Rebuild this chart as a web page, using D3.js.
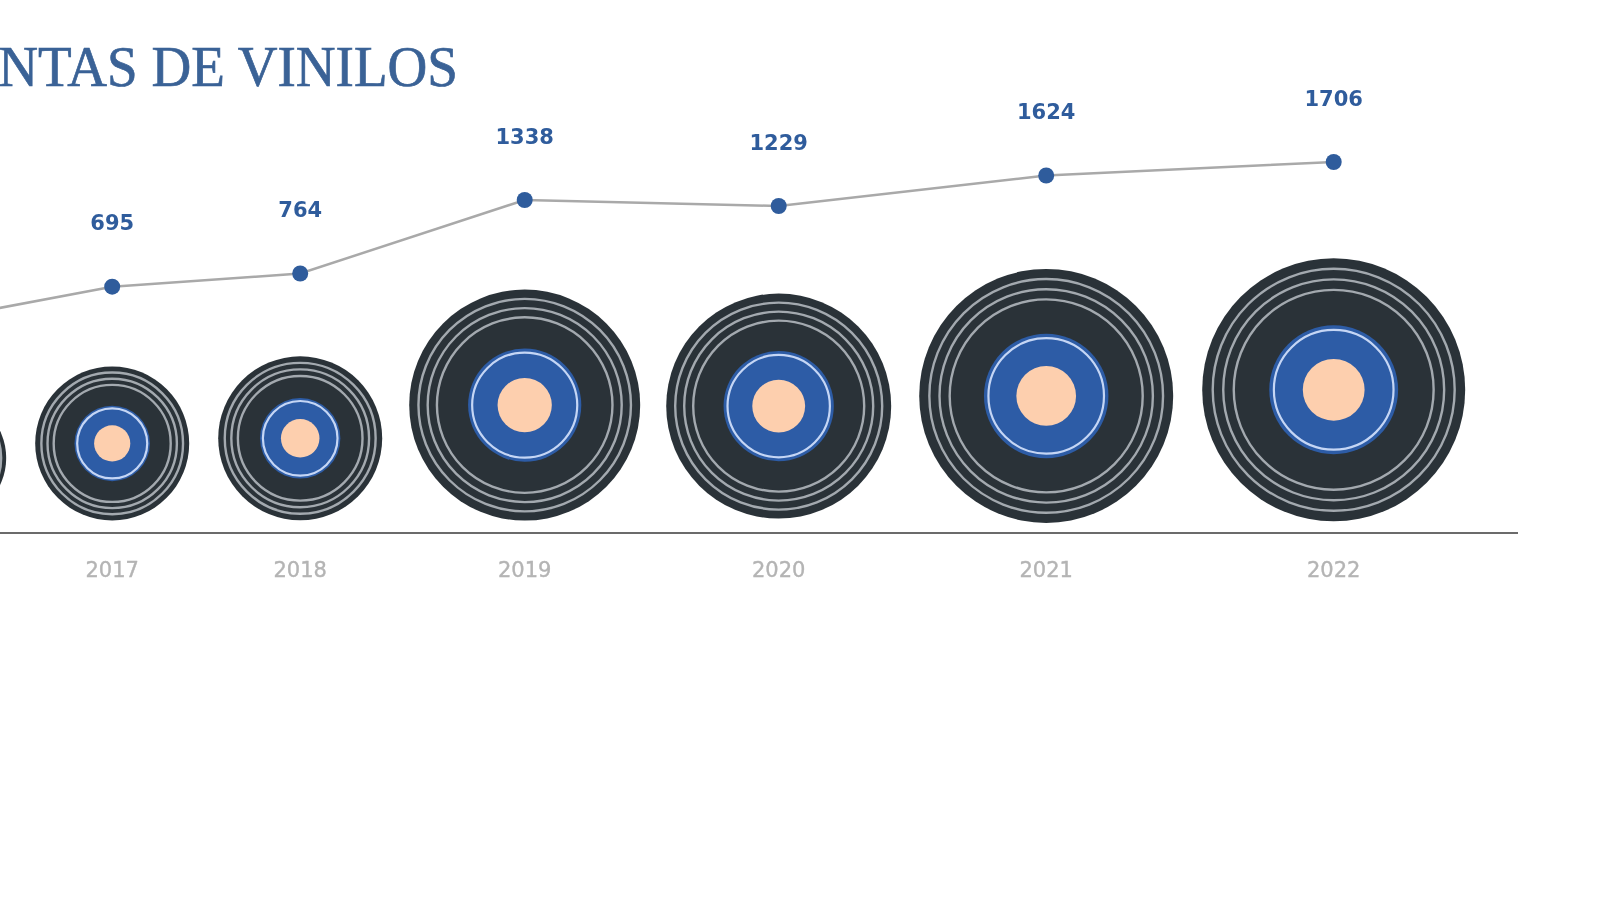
<!DOCTYPE html>
<html>
<head>
<meta charset="utf-8">
<title>Ventas de vinilos</title>
<script src="https://cdn.jsdelivr.net/npm/d3@7"></script>
<style>
  html, body { margin: 0; padding: 0; background: #fff; overflow: hidden; }
  svg { display: block; filter: blur(0.5px); }
</style>
</head>
<body>
<svg id="chart"></svg>
<script>
// 2016 sits off the left edge of the picture, its value is an estimate
const years = ["2016", "2017", "2018", "2019", "2020", "2021", "2022"];
const sales = [600, 695, 764, 1338, 1229, 1624, 1706];
const titleText = "VENTAS DE VINILOS";

const width = 1600;
const height = 900;
const baseline = 533;
const discGaps = [29, 29, 27, 26, 28, 29];

const sorted = d3.sort(sales);

// the original is hand placed, so these scales are piecewise
const r = d3.scaleLinear()
  .domain(sorted)
  .range([63, 77, 82, 112.5, 115.5, 127, 131.5]);

const y = d3.scaleLinear()
  .domain(sorted)
  .range([318.6, 286.7, 273.5, 206, 200, 175.5, 162]);

const discY = d3.scaleLinear()
  .domain(sorted)
  .range([458, 443.4, 438.3, 406.1, 405.1, 395.9, 389.8]);

// discs stand side by side, each one starts where the last one ended
let cursor = 112.2 - r(sales[1]) - discGaps[0] - r(sales[0]) * 2;
const data = years.map((year, i) => {
  const radius = r(sales[i]);
  const d = { year, value: sales[i], radius, x: cursor + radius };
  cursor += radius * 2 + (discGaps[i] || 0);
  return d;
});

// only these get labels, the 2016 ones would be off the page anyway
const labelled = data.filter(d => d.x > 0);

const svg = d3.select("#chart").attr("width", width).attr("height", height);

// Title
svg.append("text")
  .attr("transform", "translate(458, 86) scale(0.95, 1)")
  .attr("text-anchor", "end")
  .attr("fill", "#3a6296")
  .attr("stroke", "#3a6296")
  .attr("stroke-width", 0.7)
  .style("font-family", "'Liberation Serif'")
  .style("font-size", "58px")
  .text(titleText);

// Axis line
svg.append("line")
  .attr("x1", 0)
  .attr("x2", 1518)
  .attr("y1", baseline)
  .attr("y2", baseline)
  .attr("stroke", "#6b6b6b")
  .attr("stroke-width", 2);

// Discs
const discs = svg.selectAll("g.disc")
  .data(data)
  .enter()
  .append("g")
  .attr("class", "disc")
  .attr("transform", d => `translate(${d.x}, ${discY(d.value)})`);

discs.append("circle").attr("r", d => d.radius).attr("fill", "#2a3238");

[0.92, 0.84, 0.76].forEach(k => {
  discs.append("circle")
    .attr("r", d => d.radius * k)
    .attr("fill", "none")
    .attr("stroke", "#a3a9af")
    .attr("stroke-width", 2.4);
});

discs.append("circle").attr("r", d => d.radius * 0.49).attr("fill", "#2d5ca6");
discs.append("circle")
  .attr("r", d => d.radius * 0.455)
  .attr("fill", "none")
  .attr("stroke", "#c5d6f5")
  .attr("stroke-width", 2.2);
discs.append("circle").attr("r", d => d.radius * 0.235).attr("fill", "#fdcfae");

// Line and points
const line = d3.line().x(d => d.x).y(d => y(d.value));

svg.append("path")
  .datum(data)
  .attr("d", line)
  .attr("fill", "none")
  .attr("stroke", "#a9a9a9")
  .attr("stroke-width", 2.5);

svg.selectAll("circle.point")
  .data(data)
  .enter()
  .append("circle")
  .attr("class", "point")
  .attr("cx", d => d.x)
  .attr("cy", d => y(d.value))
  .attr("r", 8)
  .attr("fill", "#2f5c9c");

// Labels
svg.selectAll("text.value")
  .data(labelled)
  .enter()
  .append("text")
  .attr("class", "value")
  .attr("x", d => d.x)
  .attr("y", d => y(d.value) - 56.5)
  .attr("text-anchor", "middle")
  .attr("fill", "#2f5c9c")
  .style("font-family", "'DejaVu Sans'")
  .style("font-weight", "bold")
  .style("font-size", "21px")
  .text(d => d.value);

svg.selectAll("text.year")
  .data(labelled)
  .enter()
  .append("text")
  .attr("class", "year")
  .attr("x", d => d.x)
  .attr("y", 577)
  .attr("text-anchor", "middle")
  .attr("fill", "#b4b4b4")
  .attr("stroke", "#b4b4b4")
  .attr("stroke-width", 0.4)
  .style("font-family", "'DejaVu Sans'")
  .style("font-size", "21px")
  .text(d => d.year);
</script>
</body>
</html>
